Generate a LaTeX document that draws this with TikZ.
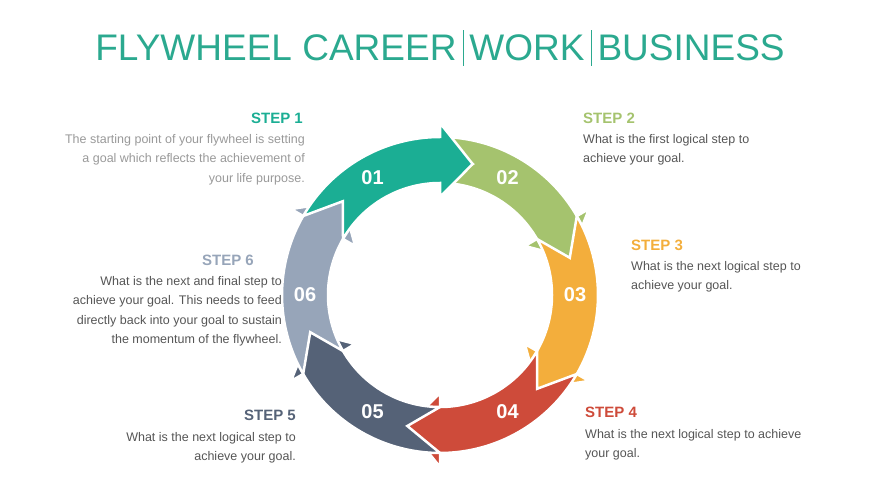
\documentclass[tikz,border=0pt]{standalone}
\usepackage{fontspec}
\setmainfont{Liberation Sans}
\usetikzlibrary{positioning}
\definecolor{cone}{HTML}{1BAE94}
\definecolor{ctwo}{HTML}{A5C36E}
\definecolor{cthree}{HTML}{F3AE3C}
\definecolor{cfour}{HTML}{CE4B3A}
\definecolor{cfive}{HTML}{556277}
\definecolor{csix}{HTML}{97A5B9}
\definecolor{titlecol}{HTML}{2BA98F}
\definecolor{bodycol}{HTML}{555555}
\definecolor{paleb}{HTML}{999999}
\newcommand{\segment}[3]{% center angle, colour, label
  \pgfmathsetmacro{\sa}{#1+30}\pgfmathsetmacro{\ea}{#1-30}
  \pgfmathsetmacro{\ta}{#1-44}\pgfmathsetmacro{\na}{#1+16}
  \fill[#2, draw=white, line width=2.5pt, line join=miter]
    (\sa:158) arc[start angle=\sa, end angle=\ea, radius=158]
    -- (\ea:172) -- (\ta:135) -- (\ea:98) -- (\ea:112)
    arc[start angle=\ea, end angle=\sa, radius=112]
    -- (\na:135) -- cycle;
  \node[labeltext] at (#1:135) {#3};
}
\begin{document}
\begin{tikzpicture}[x=1pt,y=1pt,
  labeltext/.style={text=white, font=\fontsize{20}{20}\selectfont\bfseries},
  stephead/.style={font=\fontsize{15}{15}\selectfont\bfseries, inner sep=0pt},
  stepbody/.style={font=\fontsize{12.5}{19.5}\selectfont, text=bodycol, inner sep=0pt}]
\useasboundingbox (0,0) rectangle (881,496);
% title
\node[text=titlecol, font=\fontsize{37}{37}\selectfont] (title) at (440,448)
  {FLYWHEEL CAREER\,\rule[-5pt]{0.6pt}{36pt}\,WORK\,\rule[-5pt]{0.6pt}{36pt}\,BUSINESS};
% ring
\begin{scope}[shift={(440,201)}]
  \segment{120}{cone}{01}
  \segment{60}{ctwo}{02}
  \segment{0}{cthree}{03}
  \segment{-60}{cfour}{04}
  \segment{-120}{cfive}{05}
  \segment{180}{csix}{06}
  \segment{120}{cone}{01}
\end{scope}
% texts
\node[stephead, text=cone, anchor=north east] (h1) at (303,383) {STEP 1};
\node[stepbody, text=paleb, align=right, anchor=north east] (b1) at (305,362)
  {The starting point of your flywheel is setting\\a goal which reflects the achievement of\\your life purpose.};
\node[stephead, text=ctwo, anchor=north west] (h2) at (583,383) {STEP 2};
\node[stepbody, align=left, anchor=north west] (b2) at (583,362)
  {What is the first logical step to\\achieve your goal.};
\node[stephead, text=cthree, anchor=north west] (h3) at (631,256) {STEP 3};
\node[stepbody, align=left, anchor=north west] (b3) at (631,235)
  {What is the next logical step to\\achieve your goal.};
\node[stephead, text=cfour, anchor=north west] (h4) at (585,89) {STEP 4};
\node[stepbody, align=left, anchor=north west] (b4) at (585,67)
  {What is the next logical step to achieve\\your goal.};
\node[stephead, text=cfive, anchor=north east] (h5) at (296,86) {STEP 5};
\node[stepbody, align=right, anchor=north east] (b5) at (296,64)
  {What is the next logical step to\\achieve your goal.};
\node[stephead, text=csix, anchor=north east] (h6) at (254,241) {STEP 6};
\node[stepbody, align=right, anchor=north east] (b6) at (282,220)
  {What is the next and final step to\\achieve your goal. This needs to feed\\directly back into your goal to sustain\\the momentum of the flywheel.};
\end{tikzpicture}
\end{document}
